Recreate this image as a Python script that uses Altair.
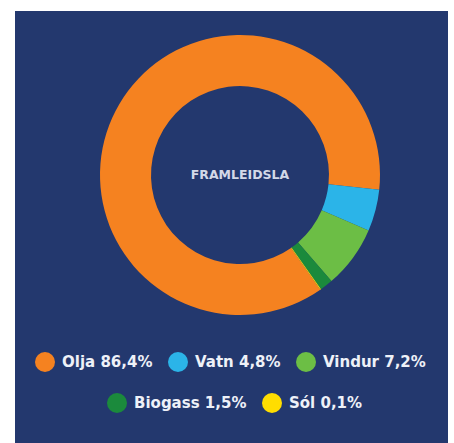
import math
import altair as alt
import pandas as pd

# ---- data ----
names = ["Olja", "Vatn", "Vindur", "Biogass", "Sól"]
values = [86.4, 4.8, 7.2, 1.5, 0.1]
pct_labels = ["86,4%", "4,8%", "7,2%", "1,5%", "0,1%"]
legend_rows = [1, 1, 1, 2, 2]
colors = ["#F58220", "#2BB4E8", "#6CBE45", "#1B8A3C", "#FFDD00"]
center_label = ["FRAMLEIDSLA"]

df = pd.DataFrame({
    "order": list(range(len(names))),
    "name": names,
    "value": values,
    "label": [f"{n} {p}" for n, p in zip(names, pct_labels)],
    "row": legend_rows,
})
row1 = [l for l, r in zip(df["label"], legend_rows) if r == 1]
row2 = [l for l, r in zip(df["label"], legend_rows) if r == 2]
col1 = [c for c, r in zip(colors, legend_rows) if r == 1]
col2 = [c for c, r in zip(colors, legend_rows) if r == 2]

NAVY = "#23386E"
start = math.radians(145)
theta_scale = alt.Scale(domain=[0, 100], range=[start, start + 2 * math.pi])

base = (
    alt.Chart(df)
    .transform_window(cum="sum(value)", sort=[alt.SortField("order")], frame=[None, 0])
    .transform_calculate(start="datum.cum - datum.value")
)

CX, CY = 225, 164
legend_common = dict(
    title=None, orient="none", direction="horizontal",
    symbolType="circle", symbolSize=400, symbolStrokeWidth=0,
    labelFont="DejaVu Sans", labelFontSize=15, labelFontWeight="bold",
    labelColor="#EEF1F8", labelOffset=7, columnPadding=15, padding=0,
)

def ring(rowval, dom, rng, lx, ly):
    return (
        base.transform_filter(f"datum.row == {rowval}")
        .mark_arc(innerRadius=89, outerRadius=140, stroke=None)
        .encode(
            x=alt.value(CX),
            y=alt.value(CY),
            theta=alt.Theta("start:Q", scale=theta_scale),
            theta2="cum:Q",
            color=alt.Color(
                "label:N",
                scale=alt.Scale(domain=dom, range=rng),
                legend=alt.Legend(legendX=lx, legendY=ly, columns=len(dom), **legend_common),
            ),
        )
    )

arc1 = ring(1, row1, col1, 20, 341)
arc2 = ring(2, row2, col2, 92, 382)

text = (
    alt.Chart(pd.DataFrame({"t": center_label}))
    .mark_text(font="DejaVu Sans", fontSize=12.5, fontWeight="bold", color="#D3D8E8",
               baseline="middle")
    .encode(text="t:N", x=alt.value(CX), y=alt.value(CY))
)

chart = (
    alt.layer(arc1, arc2, text)
    .resolve_scale(color="independent")
    .properties(
        width=433, height=432,
        autosize=alt.AutoSizeParams(type="none"),
        padding={"left": 15, "top": 11, "right": 6, "bottom": 0},
        background="white",
    )
    .configure_view(fill=NAVY, stroke=None)
)

chart.save("out.html", embed_options={"renderer": "svg", "actions": False})
